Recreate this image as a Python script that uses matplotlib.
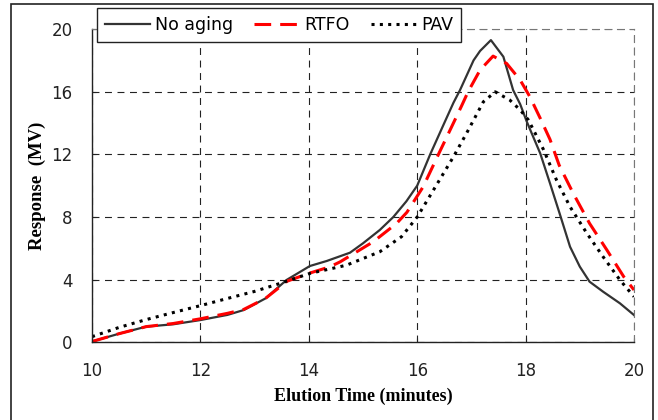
import matplotlib
matplotlib.use("Agg")
import matplotlib.pyplot as plt
from matplotlib.patches import Rectangle

plt.rcParams['lines.scale_dashes'] = False

na_time = [10, 10.5, 11, 11.5, 12, 12.5, 12.8, 13.2, 13.59, 14.02, 14.33, 14.76, 15.0, 15.31,
           15.56, 15.8, 16.0, 16.24, 16.5, 16.67, 16.79, 17.04, 17.16, 17.36, 17.59, 17.77,
           17.9, 18.02, 18.27, 18.45, 18.63, 18.82, 19.0, 19.18, 19.43, 19.74, 20]
na_resp = [0.05, 0.55, 1.0, 1.15, 1.42, 1.75, 2.06, 2.8, 3.98, 4.87, 5.19, 5.72, 6.32, 7.17,
           8.0, 9.0, 10.0, 12.0, 14.0, 15.3, 16.1, 18.0, 18.6, 19.29, 18.23, 16.1,
           15.2, 14.1, 12.06, 10.15, 8.2, 6.1, 4.83, 3.87, 3.23, 2.49, 1.74]

rtfo_time = [10, 10.5, 11, 11.5, 12, 12.5, 12.8, 13.2, 13.6, 14.0, 14.39, 14.58, 15.19, 15.62,
             15.81, 16.11, 16.42, 16.6, 16.82, 16.94, 17.16, 17.4, 17.65, 17.9, 18.08,
             18.27, 18.45, 18.62, 18.88, 19.18, 19.5, 19.81, 20]
rtfo_resp = [0.05, 0.55, 1.0, 1.2, 1.5, 1.85, 2.1, 2.8, 3.9, 4.4, 4.82, 5.14, 6.42, 7.59,
             8.3, 9.93, 12.2, 13.5, 15.1, 16.0, 17.38, 18.27, 17.8, 16.74, 15.67,
             14.3, 12.95, 11.3, 9.5, 7.59, 5.89, 4.19, 3.34]

pav_time = [10, 10.5, 11, 11.5, 12, 12.5, 13, 13.47, 14.02, 14.58, 14.7, 15.31, 15.71, 16.0,
            16.3, 16.67, 16.91, 17.22, 17.44, 17.71, 17.9, 18.05, 18.33, 18.57, 18.82, 19.13,
            19.43, 19.74, 20]
pav_resp = [0.36, 0.95, 1.45, 1.9, 2.34, 2.8, 3.25, 3.76, 4.4, 4.83, 4.93, 5.78, 6.74, 8.0,
            9.72, 11.85, 13.34, 15.35, 15.99, 15.46, 14.83, 14.2, 12.3, 10.36, 8.65, 6.96,
            5.46, 3.98, 2.91]

xticks = [10, 12, 14, 16, 18, 20]
yticks = [0, 4, 8, 12, 16, 20]

fig = plt.figure(figsize=(6.58, 4.2), dpi=100)
ax = fig.add_axes([92/658, 1-342.3/420, (634-92)/658, (342.3-29)/420])

ax.plot(na_time, na_resp, color='#333333', lw=1.6, label='No aging')
ax.plot(rtfo_time, rtfo_resp, color='#ff0000', lw=2.2, dashes=(12, 6.5), label='RTFO')
ax.plot(pav_time, pav_resp, color='black', lw=2.2, dashes=(2.2, 3.8), label='PAV')

ax.set_xlim(10, 20)
ax.set_ylim(0, 20)
ax.set_xticks(xticks)
ax.set_yticks(yticks)
ax.grid(True, color='#222222', lw=0.8, dashes=(5, 4))
ax.tick_params(direction='in', length=3, labelsize=12, colors='#222222')
ax.tick_params(axis='x', pad=14)
ax.tick_params(axis='y', pad=14)
for s in ['top', 'right']:
    ax.spines[s].set_linestyle((0, (5, 4)))
    ax.spines[s].set_color('#777777')
for s in ['left', 'bottom']:
    ax.spines[s].set_color('#222222')
    ax.spines[s].set_linewidth(1.0)

ax.set_xlabel('Elution Time (minutes)', family='Liberation Serif', fontweight='bold',
              fontsize=13, labelpad=6)
ax.set_ylabel('Response  (MV)', family='Liberation Serif', fontweight='bold',
              fontsize=13.5, labelpad=4)

leg = fig.legend(loc='upper left', bbox_to_anchor=(97/658, 1-8/420), ncol=3,
                 fontsize=12.5, frameon=True, fancybox=False, handlelength=2.6,
                 handletextpad=0.3, columnspacing=1.2, borderpad=0.45, borderaxespad=0)
leg.get_frame().set_edgecolor('#222222')
leg.get_frame().set_linewidth(1.0)
leg.get_frame().set_alpha(1)

fig.patches.append(Rectangle((11/658, -0.02), 642/658, 1-4/420+0.02, transform=fig.transFigure,
                             fill=False, edgecolor='#222222', lw=1.2))

fig.savefig('out.png', dpi=100)
